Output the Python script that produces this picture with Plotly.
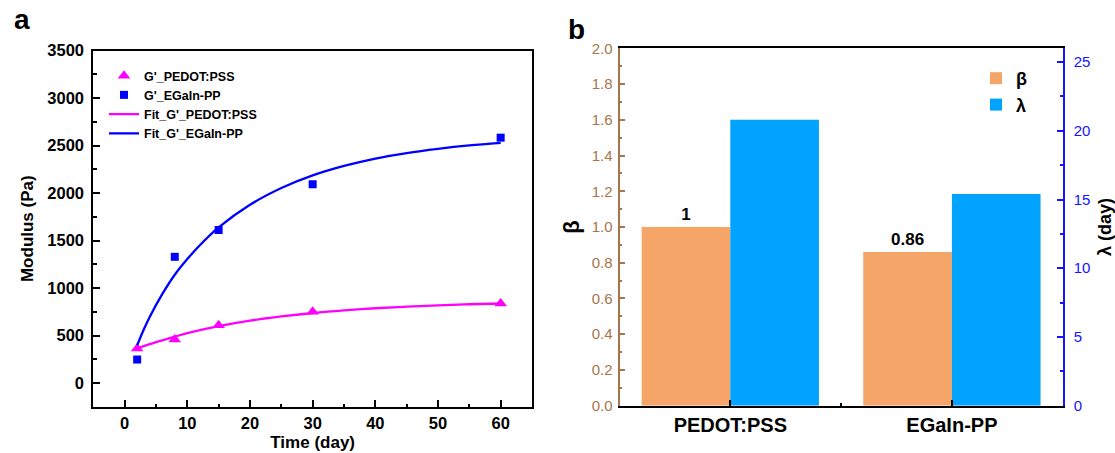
import plotly.graph_objects as go

# ---------------- data (panel a) ----------------
time_days = [2, 8, 15, 30, 60]
g_pedot = [363, 457, 608, 749, 837]
g_egain = [247, 1329, 1611, 2093, 2584]

fit_t_pedot = [2, 5, 8, 10, 15, 20, 25, 30, 35, 40, 45, 50, 55, 60]
fit_pedot = [363, 430, 488, 524, 598, 656, 701, 737, 765, 787, 804, 818, 829, 837]
fit_t_egain = [2, 3, 4, 6, 8, 10, 12, 15, 20, 25, 30, 35, 40, 45, 50, 55, 60]
fit_egain = [397, 555, 695, 935, 1140, 1305, 1450, 1638, 1877, 2053, 2186, 2286, 2364, 2422, 2467, 2503, 2530]

# ---------------- data (panel b) ----------------
samples = ["PEDOT:PSS", "EGaIn-PP"]
sample_pos = [0, 1]
beta = [1.0, 0.86]
beta_labels = ["1", "0.86"]
lam = [20.8, 15.4]

x_ticks_a = [0, 10, 20, 30, 40, 50, 60]
y_ticks_a = [0, 500, 1000, 1500, 2000, 2500, 3000, 3500]
y_ticks_beta = [0.0, 0.2, 0.4, 0.6, 0.8, 1.0, 1.2, 1.4, 1.6, 1.8, 2.0]
y_ticks_lam = [0, 5, 10, 15, 20, 25]

FONT = "Arial, 'Liberation Sans', sans-serif"
W, H = 1115, 453
MAGENTA = "#FF00FF"
BLUE = "#0000FF"
ORANGE = "#F4A567"
SKY = "#00A3FF"
BROWN = "#A8754A"
RBLUE = "#1414FF"

fig = go.Figure()

# panel a scatter points
fig.add_trace(go.Scatter(
    x=time_days, y=g_pedot, mode="markers", name="G'_PEDOT:PSS",
    marker=dict(symbol="triangle-up", size=11, color=MAGENTA),
    xaxis="x", yaxis="y", legend="legend", cliponaxis=False))
fig.add_trace(go.Scatter(
    x=time_days, y=g_egain, mode="markers", name="G'_EGaIn-PP",
    marker=dict(symbol="square", size=8, color=BLUE),
    xaxis="x", yaxis="y", legend="legend", cliponaxis=False))
fig.add_trace(go.Scatter(
    x=fit_t_pedot, y=fit_pedot, mode="lines", name="Fit_G'_PEDOT:PSS",
    line=dict(color=MAGENTA, width=2.3, shape="spline"),
    xaxis="x", yaxis="y", legend="legend"))
fig.add_trace(go.Scatter(
    x=fit_t_egain, y=fit_egain, mode="lines", name="Fit_G'_EGaIn-PP",
    line=dict(color=BLUE, width=2.3, shape="spline"),
    xaxis="x", yaxis="y", legend="legend"))

# panel b bars
fig.add_trace(go.Bar(
    x=sample_pos, y=beta, name="β", width=0.4, offset=-0.4,
    marker=dict(color=ORANGE, line=dict(width=0)),
    text=beta_labels, textposition="outside", cliponaxis=False,
    textfont=dict(family=FONT, size=17, color="black", weight="bold"),
    xaxis="x2", yaxis="y2", legend="legend2"))
fig.add_trace(go.Bar(
    x=sample_pos, y=lam, name="λ", width=0.4, offset=0,
    marker=dict(color=SKY, line=dict(width=0)),
    xaxis="x2", yaxis="y3", legend="legend2"))

tick_font_a = dict(family=FONT, size=16.5, color="black", weight="bold")
title_font = dict(family=FONT, size=17, color="black", weight="bold")

fig.update_layout(
    width=W, height=H, autosize=False,
    margin=dict(l=0, r=0, t=0, b=0, autoexpand=False),
    paper_bgcolor="white", plot_bgcolor="white",
    font=dict(family=FONT, color="black"),
    barmode="overlay",
    showlegend=True,
    xaxis=dict(
        domain=[93.3 / W, 532 / W], anchor="y", automargin=False,
        range=[-5, 65], tickvals=x_ticks_a,
        showline=True, linecolor="black", linewidth=2, mirror=True,
        ticks="inside", ticklen=6.5, tickwidth=2, tickcolor="black",
        minor=dict(dtick=5, tick0=0, ticks="inside", ticklen=3, tickwidth=1.5, tickcolor="black"),
        showgrid=False, zeroline=False,
        tickfont=tick_font_a,
        title=dict(text="Time (day)", font=title_font, standoff=6),
    ),
    yaxis=dict(
        domain=[(H - 406.7) / H, (H - 50.7) / H], anchor="x", automargin=False,
        range=[-250, 3500], tickvals=y_ticks_a,
        showline=True, linecolor="black", linewidth=2, mirror=True,
        ticks="inside", ticklen=7, tickwidth=2, tickcolor="black",
        minor=dict(dtick=250, tick0=0, ticks="inside", ticklen=3.5, tickwidth=1.5, tickcolor="black"),
        showgrid=False, zeroline=False,
        tickfont=tick_font_a, ticklabelstandoff=4,
        title=dict(text="Modulus (Pa)", font=title_font, standoff=9),
    ),
    xaxis2=dict(
        domain=[619.5 / W, 1062.7 / W], anchor="y2", automargin=False,
        range=[-0.5, 1.5], tickvals=sample_pos, ticktext=samples,
        showline=True, linecolor="black", linewidth=2, mirror=True,
        ticks="inside", ticklen=6, tickwidth=2, tickcolor="black",
        minor=dict(tickvals=[0.5], ticks="inside", ticklen=3, tickwidth=2, tickcolor="black"),
        showgrid=False, zeroline=False,
        tickfont=dict(family=FONT, size=20, color="black", weight="bold"),
    ),
    yaxis2=dict(
        domain=[(H - 405.7) / H, (H - 48.3) / H], anchor="x2", automargin=False,
        range=[0, 2.0], tickvals=y_ticks_beta, tickformat=".1f",
        showline=True, linecolor=BROWN, linewidth=2,
        ticks="inside", ticklen=5, tickwidth=2, tickcolor=BROWN,
        minor=dict(dtick=0.1, tick0=0, ticks="inside", ticklen=2.5, tickwidth=2, tickcolor=BROWN),
        showgrid=False, zeroline=False,
        tickfont=dict(family=FONT, size=15, color=BROWN), ticklabelstandoff=2,
        title=dict(text="β", font=dict(family=FONT, size=22, color="black", weight="bold"), standoff=6),
    ),
    yaxis3=dict(
        overlaying="y2", side="right", anchor="x2", automargin=False,
        range=[0, 26], tickvals=y_ticks_lam,
        showline=True, linecolor=RBLUE, linewidth=2,
        ticks="inside", ticklen=6, tickwidth=2, tickcolor=RBLUE,
        minor=dict(dtick=2.5, tick0=0, ticks="inside", ticklen=2.5, tickwidth=2, tickcolor=RBLUE),
        showgrid=False, zeroline=False,
        tickfont=dict(family=FONT, size=15, color=RBLUE), ticklabelstandoff=6,
        title=dict(text="λ (day)", font=dict(family=FONT, size=18, color="black", weight="bold"), standoff=10),
    ),
    legend=dict(
        x=104 / W, xanchor="left", y=(H - 61) / H, yanchor="top",
        bgcolor="rgba(0,0,0,0)", borderwidth=0,
        font=dict(family=FONT, size=12.5, color="black", weight="bold"),
        itemwidth=30, tracegroupgap=0,
    ),
    legend2=dict(
        x=976 / W, xanchor="left", y=(H - 60) / H, yanchor="top",
        bgcolor="rgba(0,0,0,0)", borderwidth=0,
        font=dict(family=FONT, size=18, color="black", weight="bold"),
        itemwidth=30,
    ),
    annotations=[
        dict(text="a", x=12 / W, y=(H - 2) / H, xref="paper", yref="paper",
             xanchor="left", yanchor="top", showarrow=False,
             font=dict(family=FONT, size=28, color="black", weight="bold")),
        dict(text="b", x=566 / W, y=(H - 12) / H, xref="paper", yref="paper",
             xanchor="left", yanchor="top", showarrow=False,
             font=dict(family=FONT, size=28, color="black", weight="bold")),
    ],
)

fig.write_html("out.html")
